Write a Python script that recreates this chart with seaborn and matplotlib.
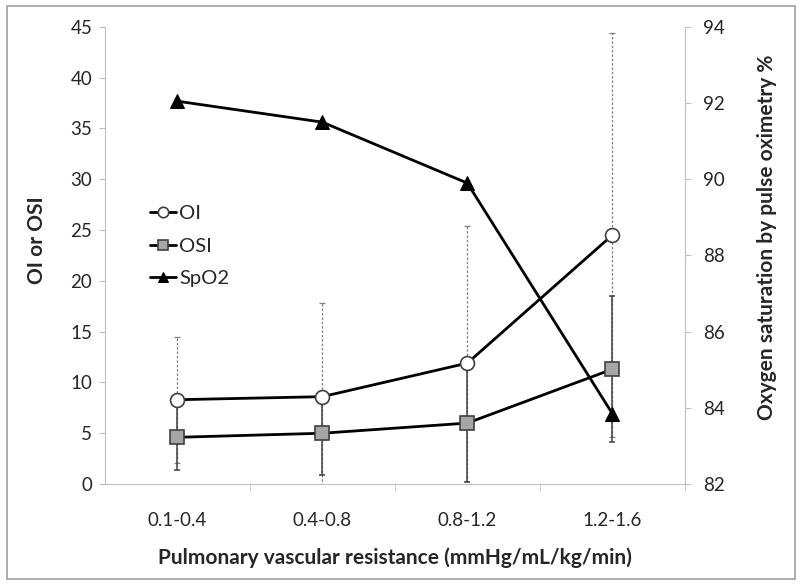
import numpy as np
import pandas as pd
import seaborn as sns
import matplotlib.pyplot as plt
from matplotlib.patches import Rectangle

# Data
categories = ['0.1-0.4', '0.4-0.8', '0.8-1.2', '1.2-1.6']
oi_mean = [8.3, 8.6, 11.9, 24.5]
oi_sd = [6.2, 9.2, 13.5, 19.9]
osi_mean = [4.6, 5.0, 6.0, 11.3]
osi_sd = [3.2, 4.1, 5.8, 7.2]
spo2_mean = [92.05, 91.5, 89.9, 83.85]

sns.set_style('ticks')
plt.rcParams['font.family'] = ['Lato', 'DejaVu Sans']

grey = '#bfbfbf'

fig = plt.figure(figsize=(8, 5.85), dpi=100)
ax = fig.add_axes([0.131, 0.1726, 0.725, 0.7814])
ax2 = ax.twinx()

x = np.arange(len(categories))
df = pd.DataFrame({'x': x, 'OI': oi_mean, 'OSI': osi_mean, 'SpO2': spo2_mean})

# error bars (OI dashed, OSI solid)
eb = ax.errorbar(x, oi_mean, yerr=oi_sd, fmt='none', ecolor='#808080',
                 elinewidth=0.9, capsize=2.5, capthick=0.9, zorder=2)
eb[2][0].set_linestyle((0, (2, 1.5)))
ax.errorbar(x, osi_mean, yerr=osi_sd, fmt='none', ecolor='#404040',
            elinewidth=1.1, capsize=2.5, capthick=1.1, zorder=2)

# lines with markers
sns.lineplot(data=df, x='x', y='OI', ax=ax, color='black', lw=2, marker='o',
             markersize=10, markerfacecolor='white', markeredgecolor='#404040',
             markeredgewidth=1.2, label='OI', zorder=3)
sns.lineplot(data=df, x='x', y='OSI', ax=ax, color='black', lw=2, marker='s',
             markersize=10, markerfacecolor='#a6a6a6', markeredgecolor='#404040',
             markeredgewidth=1.2, label='OSI', zorder=3)
sns.lineplot(data=df, x='x', y='SpO2', ax=ax2, color='black', lw=2, marker='^',
             markersize=10, markerfacecolor='black', markeredgecolor='black',
             label='SpO2', zorder=3)

# axes limits and ticks
ax.set_xlim(-0.5, 3.5)
ax.set_ylim(0, 45)
ax.set_yticks(range(0, 46, 5))
ax2.set_ylim(82, 94)
ax2.set_yticks(range(82, 95, 2))

ax.set_xticks(x)
ax.set_xticklabels(categories)
ax.set_xticks([0.5, 1.5, 2.5, 3.5], minor=True)
ax.tick_params(axis='x', which='major', length=0, pad=20, labelsize=13.5)
ax.tick_params(axis='x', which='minor', length=5, color=grey, direction='out')
ax.tick_params(axis='y', length=4, color=grey, pad=5, labelsize=13.5)
ax2.tick_params(axis='y', length=4, color=grey, pad=9, labelsize=13.5)

for s in ['top', 'right']:
    ax.spines[s].set_visible(False)
for s in ['top', 'left', 'bottom']:
    ax2.spines[s].set_visible(False)
ax.spines['left'].set_color(grey)
ax.spines['bottom'].set_color(grey)
ax2.spines['right'].set_color(grey)

ax.set_xlabel('Pulmonary vascular resistance (mmHg/mL/kg/min)', fontsize=15,
              fontweight='bold')
ax.xaxis.set_label_coords(0.5, -0.138)
ax.set_ylabel('OI or OSI', fontsize=15, fontweight='bold')
ax.yaxis.set_label_coords(-0.1, 0.534)
ax2.set_ylabel('Oxygen saturation by pulse oximetry %', fontsize=15,
               fontweight='bold')
ax2.yaxis.set_label_coords(1.125, 0.54)

# combined legend
h1, l1 = ax.get_legend_handles_labels()
h2, l2 = ax2.get_legend_handles_labels()
if ax.get_legend():
    ax.get_legend().remove()
if ax2.get_legend():
    ax2.get_legend().remove()
ax2.legend(h1 + h2, l1 + l2, loc='center left', frameon=False,
           bbox_to_anchor=(150 / 800, 1 - 246 / 585), bbox_transform=fig.transFigure,
           fontsize=14.5, handlelength=1.3, handletextpad=0.15, labelspacing=0.75,
           borderpad=0, borderaxespad=0, markerscale=0.75)

# figure border
fig.patches.append(Rectangle((0.009, 0.01), 0.985, 0.98, transform=fig.transFigure,
                             fill=False, edgecolor='#a0a0a0', lw=1.2))

fig.savefig('out.png', dpi=100)
